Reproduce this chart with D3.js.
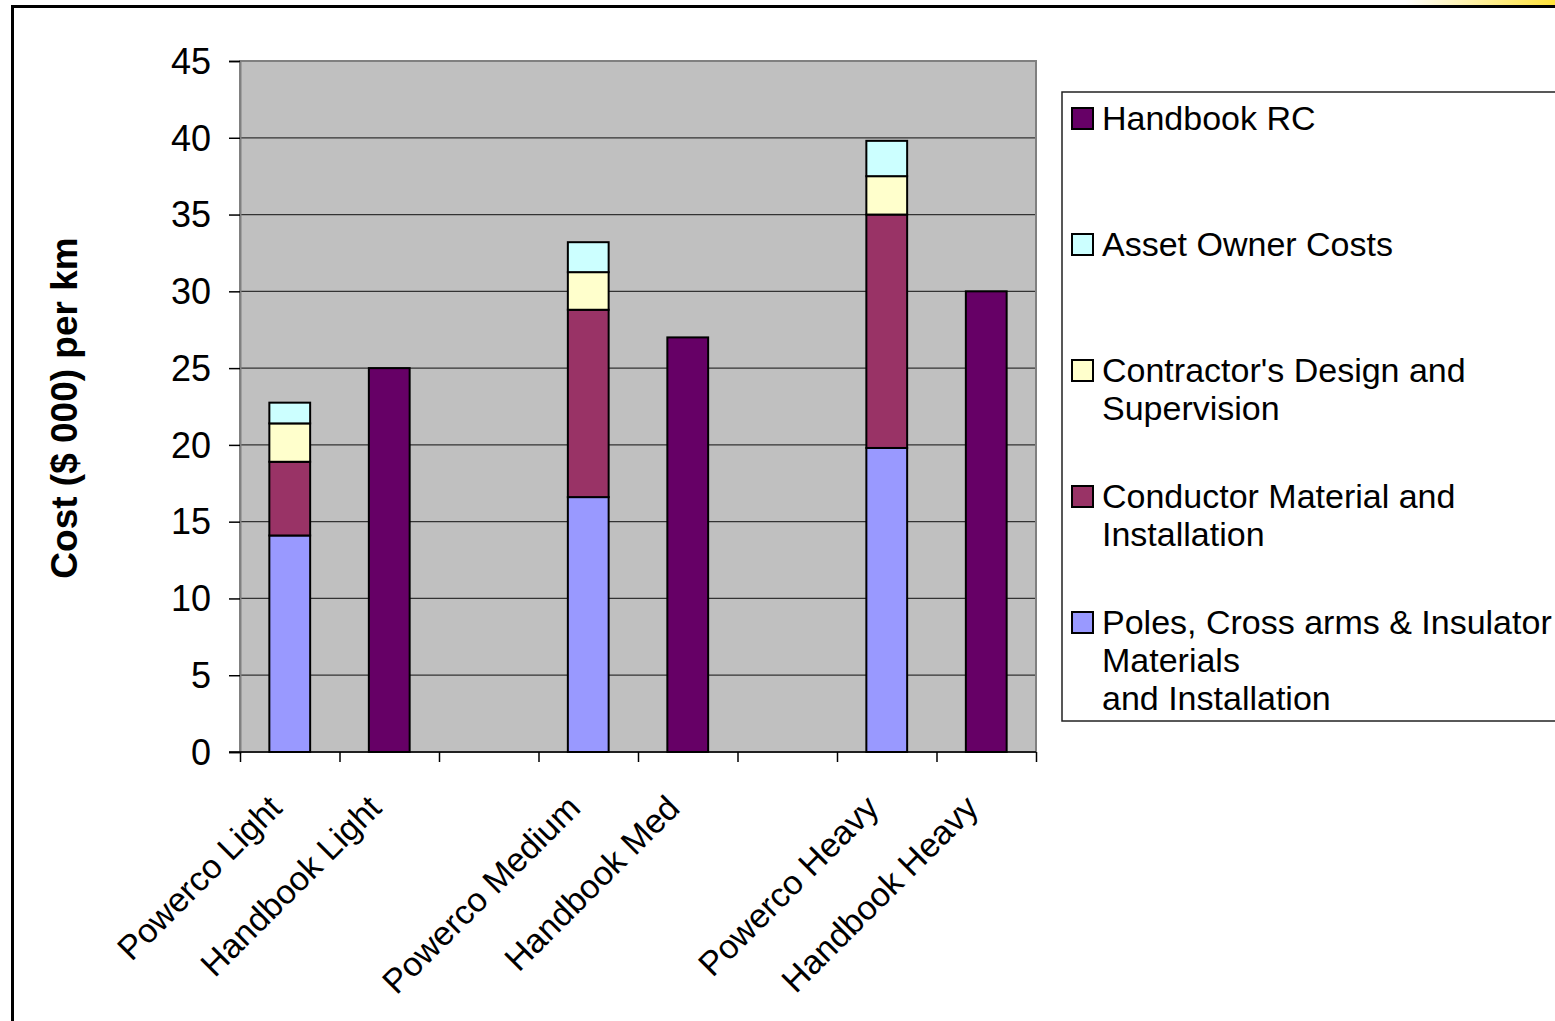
<!DOCTYPE html>
<html>
<head>
<meta charset="utf-8">
<script src="https://cdn.jsdelivr.net/npm/d3@7"></script>
<style>
  body { margin: 0; background: #fff; overflow: hidden; }
  svg { display: block; }
  text { font-family: "Liberation Sans", Arial, sans-serif; fill: #000; }
</style>
</head>
<body>
<svg id="chart" width="1555" height="1021"></svg>
<script>
// data
const categories = ["Powerco Light", "Handbook Light", "", "Powerco Medium", "Handbook Med", "", "Powerco Heavy", "Handbook Heavy"];
const poles      = [14.1, 0, 0, 16.6, 0, 0, 19.8, 0];
const conductor  = [4.8, 0, 0, 12.2, 0, 0, 15.2, 0];
const contractor = [2.5, 0, 0, 2.45, 0, 0, 2.5, 0];
const assetOwner = [1.35, 0, 0, 1.95, 0, 0, 2.3, 0];
const handbookRC = [0, 25, 0, 0, 27, 0, 0, 30];
const seriesKeys = ["poles", "conductor", "contractor", "assetOwner", "handbookRC"];
const seriesColors = ["#9999FF", "#993366", "#FFFFCC", "#CCFFFF", "#660066"];
const yTicks = [0, 5, 10, 15, 20, 25, 30, 35, 40, 45];
const yTitle = "Cost ($ 000) per km";
// legend goes top to bottom, reverse of stack order
const legendKeys = ["handbookRC", "assetOwner", "contractor", "conductor", "poles"];
const legendLabels = [
  ["Handbook RC"],
  ["Asset Owner Costs"],
  ["Contractor's Design and", "Supervision"],
  ["Conductor Material and", "Installation"],
  ["Poles, Cross arms & Insulator", "Materials", "and Installation"]
];

drawChart();

function drawChart() {
  const svg = d3.select("#chart");
  const plot = {left: 240, right: 1036, top: 61, bottom: 752};

  // outer chart frame (runs off the page to the right and bottom)
  const grad = svg.append("defs").append("linearGradient")
    .attr("id", "topglow").attr("x1", 0).attr("x2", 1).attr("y1", 0).attr("y2", 0);
  grad.append("stop").attr("offset", "0%").attr("stop-color", "#fff");
  grad.append("stop").attr("offset", "100%").attr("stop-color", "#FFE23A");
  svg.append("rect").attr("x", 1405).attr("y", 0).attr("width", 150).attr("height", 6)
    .attr("fill", "url(#topglow)");
  svg.append("rect")
    .attr("x", 12.5).attr("y", 6.5).attr("width", 1700).attr("height", 1200)
    .attr("fill", "none").attr("stroke", "#000").attr("stroke-width", 3);

  const idx = d3.range(categories.length);
  const x = d3.scaleBand().domain(idx).range([plot.left, plot.right]).padding(0);
  const xEdges = d3.scaleLinear().domain([0, categories.length]).range([plot.left, plot.right]);
  const y = d3.scaleLinear().domain([0, 45]).range([plot.bottom, plot.top]);

  // plot background
  svg.append("rect")
    .attr("x", plot.left).attr("y", plot.top)
    .attr("width", plot.right - plot.left).attr("height", plot.bottom - plot.top)
    .attr("fill", "#C0C0C0");

  // gridlines
  svg.append("g").selectAll("line")
    .data(yTicks.filter(t => t > 0 && t < 45))
    .enter().append("line")
    .attr("x1", plot.left).attr("x2", plot.right)
    .attr("y1", d => y(d)).attr("y2", d => y(d))
    .attr("stroke", "#333").attr("stroke-width", 1.3);

  // plot border
  svg.append("rect")
    .attr("x", plot.left).attr("y", plot.top)
    .attr("width", plot.right - plot.left).attr("height", plot.bottom - plot.top)
    .attr("fill", "none").attr("stroke", "#808080").attr("stroke-width", 2);

  // stacked bars
  const rows = idx.map(i => ({
    i: i,
    poles: poles[i], conductor: conductor[i], contractor: contractor[i],
    assetOwner: assetOwner[i], handbookRC: handbookRC[i]
  }));
  const stacked = d3.stack().keys(seriesKeys)(rows);
  const bw = x.step() * 0.41;

  svg.append("g").selectAll("g")
    .data(stacked)
    .enter().append("g")
    .attr("fill", (d, k) => seriesColors[k])
    .selectAll("rect")
    .data(d => d.filter(p => p[1] - p[0] > 0))
    .enter().append("rect")
    .attr("x", d => x(d.data.i) + (x.step() - bw) / 2)
    .attr("y", d => y(d[1]))
    .attr("width", bw)
    .attr("height", d => y(d[0]) - y(d[1]))
    .attr("stroke", "#000").attr("stroke-width", 2);

  // y axis
  const yAxis = svg.append("g")
    .attr("transform", "translate(" + plot.left + ",0)")
    .call(d3.axisLeft(y).tickValues(yTicks).tickSize(11).tickPadding(18));
  yAxis.select(".domain").attr("stroke", "#808080").attr("stroke-width", 2);
  yAxis.selectAll(".tick line").attr("stroke", "#000").attr("stroke-width", 1.5);
  yAxis.selectAll("text").style("font-size", "36px").attr("dy", "0.34em");

  // x axis: ticks on category edges
  const xAxis = svg.append("g")
    .attr("transform", "translate(0," + plot.bottom + ")")
    .call(d3.axisBottom(xEdges).tickValues(d3.range(categories.length + 1)).tickSize(10).tickFormat(""));
  xAxis.select(".domain").attr("stroke", "#000").attr("stroke-width", 1.5)
    .attr("d", "M" + (plot.left - 11) + ",0H" + plot.right);
  xAxis.selectAll(".tick line").attr("stroke", "#000").attr("stroke-width", 1.5);

  // rotated category labels
  svg.append("g").selectAll("text")
    .data(idx.filter(i => categories[i] !== ""))
    .enter().append("text")
    .attr("transform", i => "translate(" + (x(i) + x.step() / 2 - 6) + "," + (plot.bottom + 58) + ") rotate(-45)")
    .attr("text-anchor", "end")
    .style("font-size", "34px")
    .text(i => categories[i]);

  // y axis title
  svg.append("text")
    .attr("transform", "translate(77,408) rotate(-90)")
    .attr("text-anchor", "middle")
    .style("font-size", "37px").style("font-weight", "bold")
    .text(yTitle);

  // legend
  svg.append("rect")
    .attr("x", 1062).attr("y", 92).attr("width", 600).attr("height", 629)
    .attr("fill", "#fff").attr("stroke", "#222").attr("stroke-width", 1.5);

  const legend = svg.append("g").selectAll("g")
    .data(legendKeys)
    .enter().append("g")
    .attr("transform", (d, k) => "translate(1071," + (130 + k * 126) + ")");
  legend.append("rect")
    .attr("x", 1).attr("y", -22).attr("width", 21).attr("height", 21)
    .attr("fill", d => seriesColors[seriesKeys.indexOf(d)])
    .attr("stroke", "#000").attr("stroke-width", 2);
  legend.append("text")
    .attr("x", 31)
    .style("font-size", "34px")
    .selectAll("tspan")
    .data((d, k) => legendLabels[k])
    .enter().append("tspan")
    .attr("x", 31)
    .attr("dy", (d, j) => j === 0 ? 0 : 38)
    .text(d => d);
}
</script>
</body>
</html>
